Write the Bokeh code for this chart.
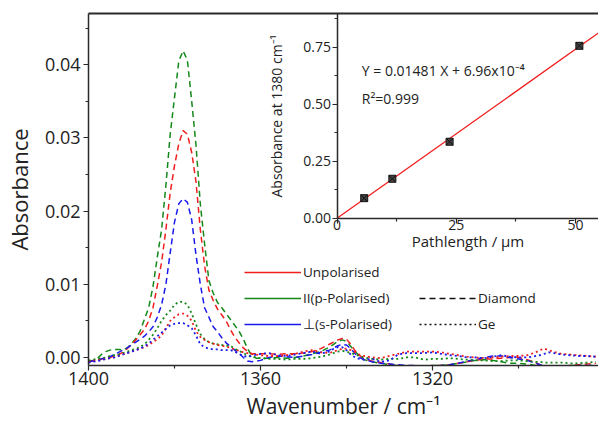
from bokeh.plotting import figure
from bokeh.models import (Range1d, LinearAxis, FixedTicker, PrintfTickFormatter,
                          Legend, LegendItem, Label, Whisker, ColumnDataSource)
from bokeh.embed import file_html
from bokeh.resources import INLINE

# ---------------- data ----------------
wavenumber = [1400, 1399, 1398, 1397, 1396, 1395, 1394, 1393, 1392, 1391,
              1390, 1389, 1388, 1387, 1386, 1385, 1384, 1383, 1382, 1381,
              1380, 1379, 1378, 1377, 1376, 1375, 1374, 1373, 1372, 1371,
              1370, 1369, 1368, 1367, 1366, 1365, 1364, 1363, 1362, 1361,
              1360, 1358, 1356, 1354, 1352, 1350, 1348, 1346, 1344, 1343,
              1342, 1341, 1340, 1339, 1338, 1337, 1336, 1334, 1332, 1330,
              1328, 1326, 1324, 1322, 1320, 1318, 1316, 1314, 1312, 1310,
              1308, 1306, 1304, 1302, 1300, 1298, 1296, 1295, 1294, 1293,
              1292, 1290, 1288, 1286, 1284, 1282]

diamond_unpolarised = [
    -0.0006, -0.0005, -0.0004, -0.0002, -0.0001, 0.0000, 0.0002, 0.0004, 0.0007, 0.0012,
    0.0018, 0.0024, 0.0031, 0.0038, 0.0050, 0.0068, 0.0098, 0.0130, 0.0175, 0.0225,
    0.0262, 0.0292, 0.0310, 0.0305, 0.0280, 0.0240, 0.0175, 0.0125, 0.0092, 0.0078,
    0.0066, 0.0058, 0.0050, 0.0038, 0.0028, 0.0020, 0.0013, 0.0008, 0.0005, 0.0005,
    0.0005, 0.0005, 0.0004, 0.0005, 0.0005, 0.0006, 0.0008, 0.0012, 0.0018, 0.0021,
    0.0024, 0.0026, 0.0025, 0.0018, 0.0009, 0.0003, -0.0002, -0.0005, -0.0007, -0.0009,
    -0.0011, -0.0012, -0.0012, -0.0012, -0.0011, -0.0011, -0.0010, -0.0008, -0.0006, -0.0004,
    -0.0002, -0.0002, -0.0001, 0.0000, 0.0000, -0.0003, -0.0007, -0.0010, -0.0012, -0.0012,
    -0.0012, -0.0012, -0.0011, -0.0010, -0.0009, -0.0008]

diamond_p = [
    -0.0005, -0.0004, -0.0002, 0.0004, 0.0008, 0.0010, 0.0011, 0.0011, 0.0010, 0.0013,
    0.0019, 0.0026, 0.0036, 0.0052, 0.0068, 0.0097, 0.0137, 0.0175, 0.0235, 0.0305,
    0.0355, 0.0405, 0.0419, 0.0406, 0.0350, 0.0290, 0.0210, 0.0155, 0.0105, 0.0088,
    0.0075, 0.0068, 0.0060, 0.0052, 0.0044, 0.0036, 0.0025, 0.0012, 0.0002, -0.0001,
    -0.0001, -0.0001, 0.0000, -0.0001, 0.0000, 0.0002, 0.0005, 0.0008, 0.0014, 0.0018,
    0.0022, 0.0024, 0.0022, 0.0015, 0.0008, 0.0002, -0.0003, -0.0006, -0.0008, -0.0010,
    -0.0011, -0.0012, -0.0012, -0.0012, -0.0011, -0.0011, -0.0010, -0.0008, -0.0006, -0.0004,
    -0.0003, -0.0004, -0.0006, -0.0008, -0.0008, -0.0009, -0.0011, -0.0012, -0.0012, -0.0013,
    -0.0012, -0.0012, -0.0011, -0.0011, -0.0012, -0.0012]

diamond_s = [
    -0.0006, -0.0005, -0.0004, -0.0002, 0.0000, 0.0001, 0.0004, 0.0007, 0.0010, 0.0013,
    0.0017, 0.0021, 0.0025, 0.0029, 0.0035, 0.0042, 0.0055, 0.0072, 0.0100, 0.0143,
    0.0185, 0.0210, 0.0217, 0.0212, 0.0188, 0.0140, 0.0100, 0.0068, 0.0055, 0.0042,
    0.0035, 0.0027, 0.0020, 0.0015, 0.0010, 0.0006, 0.0000, -0.0005, -0.0006, -0.0005,
    -0.0004, 0.0000, 0.0002, 0.0001, 0.0000, 0.0002, 0.0004, 0.0007, 0.0010, 0.0013,
    0.0016, 0.0018, 0.0017, 0.0012, 0.0005, 0.0000, -0.0003, -0.0006, -0.0008, -0.0009,
    -0.0010, -0.0011, -0.0011, -0.0012, -0.0012, -0.0011, -0.0010, -0.0008, -0.0005, -0.0003,
    0.0000, 0.0002, 0.0002, 0.0000, -0.0002, -0.0004, -0.0008, -0.0010, -0.0011, -0.0012,
    -0.0012, -0.0012, -0.0012, -0.0011, -0.0011, -0.0011]

ge_unpolarised = [
    -0.0006, -0.0005, -0.0004, -0.0003, -0.0002, -0.0001, 0.0000, 0.0002, 0.0004, 0.0006,
    0.0008, 0.0010, 0.0012, 0.0014, 0.0017, 0.0021, 0.0025, 0.0030, 0.0040, 0.0050,
    0.0055, 0.0059, 0.0060, 0.0057, 0.0050, 0.0036, 0.0028, 0.0024, 0.0021, 0.0019,
    0.0017, 0.0016, 0.0015, 0.0013, 0.0011, 0.0009, 0.0007, 0.0006, 0.0005, 0.0004,
    0.0003, 0.0002, 0.0002, 0.0003, 0.0005, 0.0008, 0.0010, 0.0007, 0.0006, 0.0008,
    0.0010, 0.0012, 0.0012, 0.0010, 0.0007, 0.0004, 0.0002, 0.0000, -0.0001, 0.0002,
    0.0005, 0.0008, 0.0008, 0.0008, 0.0008, 0.0007, 0.0005, 0.0003, 0.0001, 0.0000,
    -0.0001, 0.0000, 0.0001, 0.0002, 0.0002, 0.0003, 0.0007, 0.0010, 0.0012, 0.0010,
    0.0008, 0.0005, 0.0004, 0.0003, 0.0002, 0.0001]

ge_p = [
    -0.0004, -0.0003, -0.0002, -0.0001, 0.0000, 0.0002, 0.0003, 0.0004, 0.0006, 0.0008,
    0.0010, 0.0012, 0.0014, 0.0018, 0.0024, 0.0031, 0.0040, 0.0050, 0.0058, 0.0064,
    0.0072, 0.0076, 0.0076, 0.0072, 0.0060, 0.0045, 0.0032, 0.0025, 0.0021, 0.0019,
    0.0018, 0.0017, 0.0016, 0.0016, 0.0012, 0.0009, 0.0006, 0.0003, 0.0001, 0.0000,
    -0.0001, -0.0002, -0.0002, -0.0003, -0.0002, -0.0002, -0.0001, 0.0001, 0.0004, 0.0006,
    0.0008, 0.0009, 0.0008, 0.0006, 0.0004, 0.0002, 0.0000, -0.0002, -0.0003, -0.0002,
    -0.0002, 0.0000, 0.0000, -0.0003, -0.0002, -0.0002, -0.0001, -0.0002, -0.0003, -0.0004,
    -0.0004, -0.0005, -0.0005, -0.0004, -0.0004, -0.0005, -0.0006, -0.0006, -0.0007, -0.0007,
    -0.0007, -0.0007, -0.0008, -0.0008, -0.0007, -0.0006]

ge_s = [
    -0.0007, -0.0006, -0.0005, -0.0004, -0.0002, -0.0001, 0.0000, 0.0002, 0.0004, 0.0006,
    0.0008, 0.0010, 0.0012, 0.0015, 0.0019, 0.0024, 0.0029, 0.0034, 0.0039, 0.0044,
    0.0046, 0.0047, 0.0047, 0.0044, 0.0040, 0.0030, 0.0018, 0.0014, 0.0012, 0.0011,
    0.0011, 0.0010, 0.0010, 0.0010, 0.0008, 0.0005, 0.0002, 0.0001, 0.0002, 0.0004,
    0.0005, 0.0006, 0.0003, 0.0002, 0.0004, 0.0006, 0.0008, 0.0005, 0.0008, 0.0012,
    0.0014, 0.0014, 0.0010, 0.0004, 0.0000, -0.0002, -0.0003, -0.0002, -0.0006, -0.0004,
    0.0004, 0.0006, 0.0006, 0.0006, 0.0007, 0.0005, 0.0003, 0.0002, 0.0000, 0.0000,
    -0.0001, 0.0001, 0.0003, 0.0001, 0.0000, 0.0000, 0.0002, 0.0003, 0.0005, 0.0007,
    0.0006, 0.0004, 0.0003, 0.0002, 0.0002, 0.0001]

x_major_ticks = [1400, 1360, 1320]
x_minor_ticks = [1380, 1340, 1300]
y_major_ticks = [0.0, 0.01, 0.02, 0.03, 0.04]
y_minor_ticks = [0.005, 0.015, 0.025, 0.035, 0.045]

# inset data
pathlength = [5.7, 11.6, 23.6, 50.8]
abs_1380 = [0.089, 0.174, 0.336, 0.756]
abs_err = [0.008, 0.008, 0.010, 0.008]
fit_slope = 0.01481
fit_intercept = 6.96e-4
fit_x = [0.0, 56.0]
inset_x_ticks = [0, 25, 50]
inset_x_minor = [12.5, 37.5]
inset_y_ticks = [0.0, 0.25, 0.5, 0.75]
inset_y_minor = [0.125, 0.375, 0.625, 0.875]

FONT = "Open Sans"
TXT = "#222222"
AX = "#2a2a2a"
RED, GREEN, BLUE = "#f01e1e", "#15881a", "#1a1aee"
NAN = float("nan")

p = figure(width=598, height=422, output_backend="svg", toolbar_location=None,
           x_range=Range1d(1400, 1281.4), y_range=Range1d(-0.0011, 0.047),
           min_border_left=87, min_border_right=0, min_border_top=13,
           min_border_bottom=57)
p.extra_x_ranges = {"ix": Range1d(-52.09, 54.81)}
p.extra_y_ranges = {"iy": Range1d(-0.6436, 0.8975)}
p.grid.visible = False
p.outline_line_color = None
p.background_fill_color = "white"


def style_axis(ax, label_size, tick_size):
    ax.axis_line_color = AX
    ax.axis_line_width = 1.5
    ax.major_tick_line_color = AX
    ax.minor_tick_line_color = AX
    ax.major_tick_line_width = 1.2
    ax.minor_tick_line_width = 1.2
    ax.major_tick_in = 0
    ax.major_tick_out = 5
    ax.minor_tick_in = 0
    ax.minor_tick_out = 3
    ax.major_label_text_font = FONT
    ax.major_label_text_font_size = tick_size
    ax.major_label_text_color = TXT
    ax.axis_label_text_font = FONT
    ax.axis_label_text_font_size = label_size
    ax.axis_label_text_font_style = "normal"
    ax.axis_label_text_color = TXT


xa = p.xaxis[0]
xa.ticker = FixedTicker(ticks=x_major_ticks, minor_ticks=x_minor_ticks)
xa.axis_label = "Wavenumber / cm\u207b\u00b9"
style_axis(xa, "21px", "18px")
xa.major_label_standoff = 1
xa.axis_label_standoff = 4

ya = p.yaxis[0]
ya.ticker = FixedTicker(ticks=y_major_ticks, minor_ticks=y_minor_ticks)
ya.formatter = PrintfTickFormatter(format="%.2f")
ya.axis_label = "Absorbance"
style_axis(ya, "22px", "18px")
ya.major_label_standoff = 3
ya.axis_label_standoff = 8

top = LinearAxis(ticker=FixedTicker(ticks=[]), major_label_text_font_size="0px",
                 major_tick_out=0, major_tick_in=0, minor_tick_out=0, minor_tick_in=0,
                 major_label_standoff=0, axis_line_width=1.8, axis_line_color=AX)
p.add_layout(top, "above")

dash = "6 4"
dot = "2 3"
p.line(wavenumber, diamond_p, line_color=GREEN, line_width=1.5, line_dash=dash)
p.line(wavenumber, diamond_unpolarised, line_color=RED, line_width=1.5, line_dash=dash)
p.line(wavenumber, diamond_s, line_color=BLUE, line_width=1.5, line_dash=dash)
p.line(wavenumber, ge_p, line_color=GREEN, line_width=1.8, line_dash=dot)
p.line(wavenumber, ge_unpolarised, line_color=RED, line_width=1.8, line_dash=dot)
p.line(wavenumber, ge_s, line_color=BLUE, line_width=1.8, line_dash=dot)

# legend-only renderers (NaN data: nothing drawn in the plot)
r_un = p.line([NAN, NAN], [NAN, NAN], line_color=RED, line_width=1.5)
r_pp = p.line([NAN, NAN], [NAN, NAN], line_color=GREEN, line_width=1.5)
r_sp = p.line([NAN, NAN], [NAN, NAN], line_color=BLUE, line_width=1.5)
r_dia = p.line([NAN, NAN], [NAN, NAN], line_color="#111111", line_width=1.5, line_dash=dash)
r_ge = p.line([NAN, NAN], [NAN, NAN], line_color="#111111", line_width=1.6, line_dash=dot)


def make_legend(items, loc):
    lg = Legend(items=items, location=loc, background_fill_alpha=0,
                border_line_color=None, label_text_font=FONT,
                label_text_font_size="13.5px", label_text_color=TXT,
                glyph_width=57, glyph_height=20, label_height=20,
                spacing=6, padding=0, margin=0, label_standoff=2)
    p.add_layout(lg)


make_legend([LegendItem(label="Unpolarised", renderers=[r_un]),
             LegendItem(label="II(p-Polarised)", renderers=[r_pp]),
             LegendItem(label="\u22a5(s-Polarised)", renderers=[r_sp])], (156, 31))
make_legend([LegendItem(label="Diamond", renderers=[r_dia]),
             LegendItem(label="Ge", renderers=[r_ge])], (331, 31))

# ---------------- inset ----------------
iya = LinearAxis(x_range_name="ix", y_range_name="iy", fixed_location=0,
                 bounds=(0, 0.8975),
                 ticker=FixedTicker(ticks=inset_y_ticks, minor_ticks=inset_y_minor),
                 formatter=PrintfTickFormatter(format="%.2f"),
                 axis_label="Absorbance at 1380 cm\u207b\u00b9")
style_axis(iya, "14px", "14px")
iya.major_label_standoff = 1
iya.axis_label_standoff = 15
p.add_layout(iya, "left")

ixa = LinearAxis(x_range_name="ix", y_range_name="iy", fixed_location=0,
                 bounds=(0, 54.81),
                 ticker=FixedTicker(ticks=inset_x_ticks, minor_ticks=inset_x_minor),
                 axis_label="Pathlength / \u00b5m")
style_axis(ixa, "15px", "14px")
ixa.major_label_standoff = -3
ixa.axis_label_standoff = -3
p.add_layout(ixa, "below")

fit_y = [fit_slope * v + fit_intercept for v in fit_x]
p.line(fit_x, fit_y, line_color=RED, line_width=1.3, x_range_name="ix", y_range_name="iy")

src = ColumnDataSource(dict(x=pathlength, y=abs_1380,
                            lo=[a - e for a, e in zip(abs_1380, abs_err)],
                            hi=[a + e for a, e in zip(abs_1380, abs_err)]))
p.add_layout(Whisker(source=src, base="x", lower="lo", upper="hi",
                     x_range_name="ix", y_range_name="iy",
                     line_color="#111111", line_width=1,
                     upper_head=None, lower_head=None))
p.scatter("x", "y", source=src, marker="square_x", size=7, fill_color="#444444",
          line_color="#111111", line_width=1, x_range_name="ix", y_range_name="iy")

p.add_layout(Label(x=5.2, y=0.648, x_range_name="ix", y_range_name="iy",
                   text="Y = 0.01481 X + 6.96x10\u207b\u2074", text_font=FONT,
                   text_font_size="14px", text_color=TXT, text_baseline="middle"))
p.add_layout(Label(x=5.2, y=0.525, x_range_name="ix", y_range_name="iy",
                   text="R\u00b2=0.999", text_font=FONT,
                   text_font_size="14px", text_color=TXT, text_baseline="middle"))

open("out.html", "w").write(file_html(p, INLINE))
